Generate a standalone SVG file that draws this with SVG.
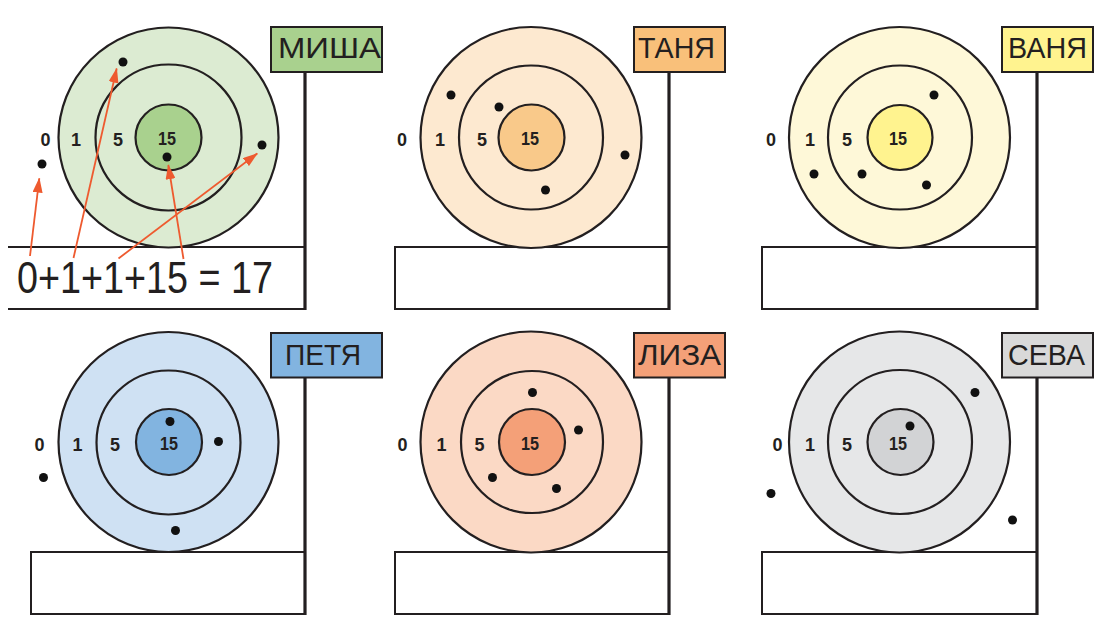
<svg xmlns="http://www.w3.org/2000/svg" width="1099" height="619" viewBox="0 0 1099 619">
<defs>
<style>
.ring{stroke:#231f20;stroke-width:2.2}
.base{fill:#fff;stroke:#231f20;stroke-width:2}
.post{stroke:#231f20;stroke-width:3.2;fill:none}
.lbl{stroke:#231f20;stroke-width:2}
.name{font-family:"Liberation Sans",Arial,sans-serif;font-size:29px;fill:#231f20}
.num{font-family:"Liberation Sans",Arial,sans-serif;font-size:18px;font-weight:bold;fill:#231f20;text-anchor:middle}
.dot{fill:#111}
.arr{stroke:#ee5a2f;stroke-width:1.8;fill:none;marker-end:url(#ah)}
</style>
<marker id="ah" viewBox="0 0 10 10" refX="9.5" refY="5" markerWidth="15" markerHeight="10" markerUnits="userSpaceOnUse" orient="auto" preserveAspectRatio="none">
<path d="M0,0 L10,5 L0,10 z" fill="#ee5a2f"/>
</marker>
</defs>
<rect width="1099" height="619" fill="#fff"/>

<g id="misha">
<path class="base" d="M8,247 H305 M8,309 H305" fill="none"/>
<circle class="ring" cx="168.5" cy="137.5" r="110" fill="#dcebd2"/>
<circle class="ring" cx="168.5" cy="137.5" r="73" fill="#dcebd2"/>
<circle class="ring" cx="168.5" cy="137.5" r="33" fill="#a9d18e"/>
<path class="post" d="M305,72 V310"/>
<rect class="lbl" x="271" y="27" width="111" height="45" fill="#a9d18e"/>
<text class="name" x="278" y="58" textLength="103" lengthAdjust="spacingAndGlyphs">МИША</text>
<text class="num" x="45.5" y="145.5">0</text>
<text class="num" x="76" y="145.5">1</text>
<text class="num" x="118" y="145.5">5</text>
<text class="num" x="167" y="144.5" textLength="18" lengthAdjust="spacingAndGlyphs">15</text>
<circle class="dot" cx="123" cy="62" r="4.5"/>
<circle class="dot" cx="42" cy="164" r="4.5"/>
<circle class="dot" cx="167" cy="157" r="4.5"/>
<circle class="dot" cx="262" cy="145" r="4.5"/>
<text x="17" y="293" font-family="Liberation Sans, Arial, sans-serif" font-size="44" fill="#231f20" textLength="256" lengthAdjust="spacingAndGlyphs">0+1+1+15 = 17</text>
</g>

<g id="tanya">
<rect class="base" x="395" y="247" width="274" height="62"/>
<circle class="ring" cx="531" cy="137.5" r="110.5" fill="#fde9d0"/>
<circle class="ring" cx="531" cy="137.5" r="72" fill="#fde9d0"/>
<circle class="ring" cx="531.5" cy="137.5" r="33" fill="#f9c98a"/>
<path class="post" d="M669,72 V310"/>
<rect class="lbl" x="634" y="27" width="91" height="45" fill="#f9c07a"/>
<text class="name" x="638" y="58" textLength="77" lengthAdjust="spacingAndGlyphs">ТАНЯ</text>
<text class="num" x="402" y="145.5">0</text>
<text class="num" x="440" y="145.5">1</text>
<text class="num" x="482" y="145.5">5</text>
<text class="num" x="530" y="144.5" textLength="18" lengthAdjust="spacingAndGlyphs">15</text>
<circle class="dot" cx="451" cy="95" r="4.5"/>
<circle class="dot" cx="499" cy="107" r="4.5"/>
<circle class="dot" cx="625" cy="155" r="4.5"/>
<circle class="dot" cx="545.5" cy="190" r="4.5"/>
</g>

<g id="vanya">
<rect class="base" x="762" y="247" width="275" height="62"/>
<circle class="ring" cx="899.5" cy="137.5" r="110.5" fill="#fef8d8"/>
<circle class="ring" cx="900" cy="137.5" r="72" fill="#fef8d8"/>
<circle class="ring" cx="900" cy="137.5" r="32.5" fill="#fff38f"/>
<path class="post" d="M1037,72 V310"/>
<rect class="lbl" x="1002" y="27" width="91" height="45" fill="#fff38f"/>
<text class="name" x="1008" y="58" textLength="79" lengthAdjust="spacingAndGlyphs">ВАНЯ</text>
<text class="num" x="771" y="145.5">0</text>
<text class="num" x="810" y="145.5">1</text>
<text class="num" x="847" y="145.5">5</text>
<text class="num" x="898" y="144.5" textLength="18" lengthAdjust="spacingAndGlyphs">15</text>
<circle class="dot" cx="934" cy="95" r="4.5"/>
<circle class="dot" cx="814" cy="174" r="4.5"/>
<circle class="dot" cx="862" cy="174" r="4.5"/>
<circle class="dot" cx="926.5" cy="185" r="4.5"/>
</g>

<g id="petya">
<rect class="base" x="31" y="552" width="274" height="62"/>
<circle class="ring" cx="168.5" cy="442" r="110" fill="#cfe1f3"/>
<circle class="ring" cx="168.5" cy="442.5" r="72" fill="#cfe1f3"/>
<circle class="ring" cx="169" cy="442" r="33" fill="#82b4e0"/>
<path class="post" d="M305,377 V615"/>
<rect class="lbl" x="271" y="333" width="111" height="44.5" fill="#82b4e0"/>
<text class="name" x="285" y="365" textLength="76" lengthAdjust="spacingAndGlyphs">ПЕТЯ</text>
<text class="num" x="39.5" y="450.5">0</text>
<text class="num" x="77.5" y="450.5">1</text>
<text class="num" x="115" y="450.5">5</text>
<text class="num" x="169" y="449.5" textLength="18" lengthAdjust="spacingAndGlyphs">15</text>
<circle class="dot" cx="170" cy="421.5" r="4.5"/>
<circle class="dot" cx="218.5" cy="441.5" r="4.5"/>
<circle class="dot" cx="43.5" cy="477.5" r="4.5"/>
<circle class="dot" cx="175.5" cy="530.5" r="4.5"/>
</g>

<g id="liza">
<rect class="base" x="395" y="552" width="274" height="62"/>
<circle class="ring" cx="531" cy="442" r="110.5" fill="#fbd9c5"/>
<circle class="ring" cx="532" cy="442" r="71" fill="#fbd9c5"/>
<circle class="ring" cx="532" cy="442" r="33" fill="#f4a078"/>
<path class="post" d="M669,377 V615"/>
<rect class="lbl" x="634" y="333" width="91" height="44.5" fill="#f4a078"/>
<text class="name" x="638" y="365" textLength="83" lengthAdjust="spacingAndGlyphs">ЛИЗА</text>
<text class="num" x="402.5" y="450.5">0</text>
<text class="num" x="441.5" y="450.5">1</text>
<text class="num" x="479.5" y="450.5">5</text>
<text class="num" x="530" y="449.5" textLength="18" lengthAdjust="spacingAndGlyphs">15</text>
<circle class="dot" cx="532.5" cy="392.5" r="4.5"/>
<circle class="dot" cx="578.5" cy="430" r="4.5"/>
<circle class="dot" cx="492.5" cy="477.5" r="4.5"/>
<circle class="dot" cx="556.5" cy="488.5" r="4.5"/>
</g>

<g id="seva">
<rect class="base" x="762" y="552" width="275" height="62"/>
<circle class="ring" cx="899.5" cy="442" r="110.5" fill="#e6e7e8"/>
<circle class="ring" cx="900" cy="442" r="72" fill="#e6e7e8"/>
<circle class="ring" cx="900.5" cy="442" r="33" fill="#d2d3d5"/>
<path class="post" d="M1037,377 V615"/>
<rect class="lbl" x="1002" y="333" width="91" height="44.5" fill="#d9d9d9"/>
<text class="name" x="1008" y="365" textLength="77" lengthAdjust="spacingAndGlyphs">СЕВА</text>
<text class="num" x="777.5" y="450.5">0</text>
<text class="num" x="810" y="450.5">1</text>
<text class="num" x="847" y="450.5">5</text>
<text class="num" x="898" y="449.5" textLength="18" lengthAdjust="spacingAndGlyphs">15</text>
<circle class="dot" cx="975" cy="392.5" r="4.5"/>
<circle class="dot" cx="910" cy="426" r="4.5"/>
<circle class="dot" cx="771" cy="493.5" r="4.5"/>
<circle class="dot" cx="1012.5" cy="520" r="4.5"/>
</g>

<g id="connectors">
<line class="arr" x1="30" y1="256" x2="39.3" y2="178.3"/>
<line class="arr" x1="73.5" y1="258" x2="116.7" y2="68.5"/>
<line class="arr" x1="118.5" y1="258.5" x2="257.3" y2="153.5"/>
<line class="arr" x1="183.5" y1="259" x2="168.3" y2="165"/>
</g>
</svg>
